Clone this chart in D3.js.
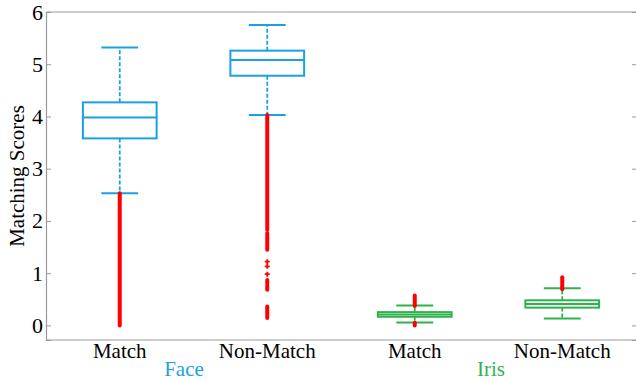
<!DOCTYPE html>
<html><head><meta charset="utf-8">
<script src="https://cdn.jsdelivr.net/npm/d3@7"></script>
<style>body{margin:0;background:#fff}svg{display:block}</style>
</head><body><div id="c"></div>
<script>
const categories = ["Match", "Non-Match", "Match", "Non-Match"];
const groups = ["Face", "Face", "Iris", "Iris"];
const groupLabels = ["Face", "Iris"];
const whiskerLow = [2.53, 4.03, 0.056, 0.13];
const q1 = [3.58, 4.78, 0.165, 0.34];
const median = [3.98, 5.08, 0.21, 0.41];
const q3 = [4.27, 5.26, 0.254, 0.48];
const whiskerHigh = [5.32, 5.75, 0.38, 0.71];
// dense runs of outliers (drawn as overlapping markers) and isolated outliers
const outlierRuns = [
  [[0, 2.53]],
  [[1.83, 4.03], [1.45, 1.77], [0.80, 0.87], [0.68, 0.76], [0.14, 0.36]],
  [[0, 0.05], [0.37, 0.57]],
  [[0.69, 0.92]]
];
const outlierPoints = [[], [1.22, 1.13, 0.98], [], []];
const yTicks = [0, 1, 2, 3, 4, 5, 6];

const W = 636, H = 381;
const FONT = '"Liberation Serif"';
const colors = {Face: "#1ba1e2", Iris: "#2eb34c"};
const svg = d3.select("#c").append("svg").attr("width", W).attr("height", H);
const x = d3.scaleBand().domain(d3.range(categories.length)).range([46, 636]).padding(0);
const y = d3.scaleLinear().domain([-0.28, 6]).range([340, 12]);
const grey = "#9a9a9a";

svg.append("line").attr("x1", 46).attr("x2", 636).attr("y1", y(6)).attr("y2", y(6)).attr("stroke", grey).attr("stroke-width", 1.2);
svg.append("line").attr("x1", 46).attr("x2", 636).attr("y1", 340).attr("y2", 340).attr("stroke", grey).attr("stroke-width", 1.2);
const ax = svg.append("g").attr("transform", "translate(46,0)")
  .call(d3.axisLeft(y).tickValues(yTicks).tickSize(-5).tickPadding(3).tickFormat(d3.format("d")));
ax.attr("font-family", null).attr("font-size", null);
ax.select(".domain").attr("stroke", grey).attr("stroke-width", 1.2);
ax.selectAll(".tick line").attr("stroke", grey);
ax.selectAll(".tick text").style("font-size", "22px").style("font-family", FONT).attr("fill", "#000");
const axr = svg.append("g").attr("transform", "translate(636,0)")
  .call(d3.axisRight(y).tickValues(yTicks).tickSize(-4).tickFormat(""));
axr.select(".domain").attr("stroke", grey);
axr.selectAll(".tick line").attr("stroke", grey);

svg.append("text").attr("transform", "translate(24,176) rotate(-90)").attr("text-anchor", "middle")
  .style("font-family", FONT).style("font-size", "21px").text("Matching Scores");

svg.selectAll(".cat").data(categories).enter().append("text")
  .attr("x", (d, i) => x(i) + x.bandwidth() / 2).attr("y", 358).attr("text-anchor", "middle")
  .style("font-family", FONT).style("font-size", "21px").text(d => d);
const groupX = {Face: 184, Iris: 491};
svg.selectAll(".grp").data(groupLabels).enter().append("text")
  .attr("x", d => groupX[d]).attr("y", 376).attr("text-anchor", "middle")
  .style("font-family", FONT).style("font-size", "21px").attr("fill", d => colors[d]).text(d => d);

categories.forEach((c, i) => {
  const col = colors[groups[i]];
  const cx = x(i) + x.bandwidth() / 2;
  const bw = x.bandwidth() / 2, cw = x.bandwidth() / 4;
  const g = svg.append("g");
  g.append("line").attr("x1", cx).attr("x2", cx).attr("y1", y(q3[i])).attr("y2", y(whiskerHigh[i]))
    .attr("stroke", col).attr("stroke-width", 1.8).attr("stroke-dasharray", "4,2");
  g.append("line").attr("x1", cx).attr("x2", cx).attr("y1", y(q1[i])).attr("y2", y(whiskerLow[i]))
    .attr("stroke", col).attr("stroke-width", 1.8).attr("stroke-dasharray", "4,2");
  [whiskerHigh[i], whiskerLow[i]].forEach(v => {
    g.append("line").attr("x1", cx - cw / 2).attr("x2", cx + cw / 2).attr("y1", y(v)).attr("y2", y(v))
      .attr("stroke", col).attr("stroke-width", 2);
  });
  g.append("rect").attr("x", cx - bw / 2).attr("width", bw).attr("y", y(q3[i]))
    .attr("height", y(q1[i]) - y(q3[i])).attr("fill", "none").attr("stroke", col).attr("stroke-width", 2);
  g.append("line").attr("x1", cx - bw / 2).attr("x2", cx + bw / 2).attr("y1", y(median[i])).attr("y2", y(median[i]))
    .attr("stroke", col).attr("stroke-width", 2);
  outlierRuns[i].forEach(r => {
    g.append("line").attr("x1", cx).attr("x2", cx).attr("y1", y(r[0])).attr("y2", y(r[1]))
      .attr("stroke", "#ff0000").attr("stroke-width", 4).attr("stroke-linecap", "round");
  });
  outlierPoints[i].forEach(v => {
    g.append("path").attr("d", `M${cx - 2.5},${y(v)}H${cx + 2.5}M${cx},${y(v) - 2.5}V${y(v) + 2.5}`)
      .attr("stroke", "#ff0000").attr("stroke-width", 1.8);
  });
});
</script></body></html>
